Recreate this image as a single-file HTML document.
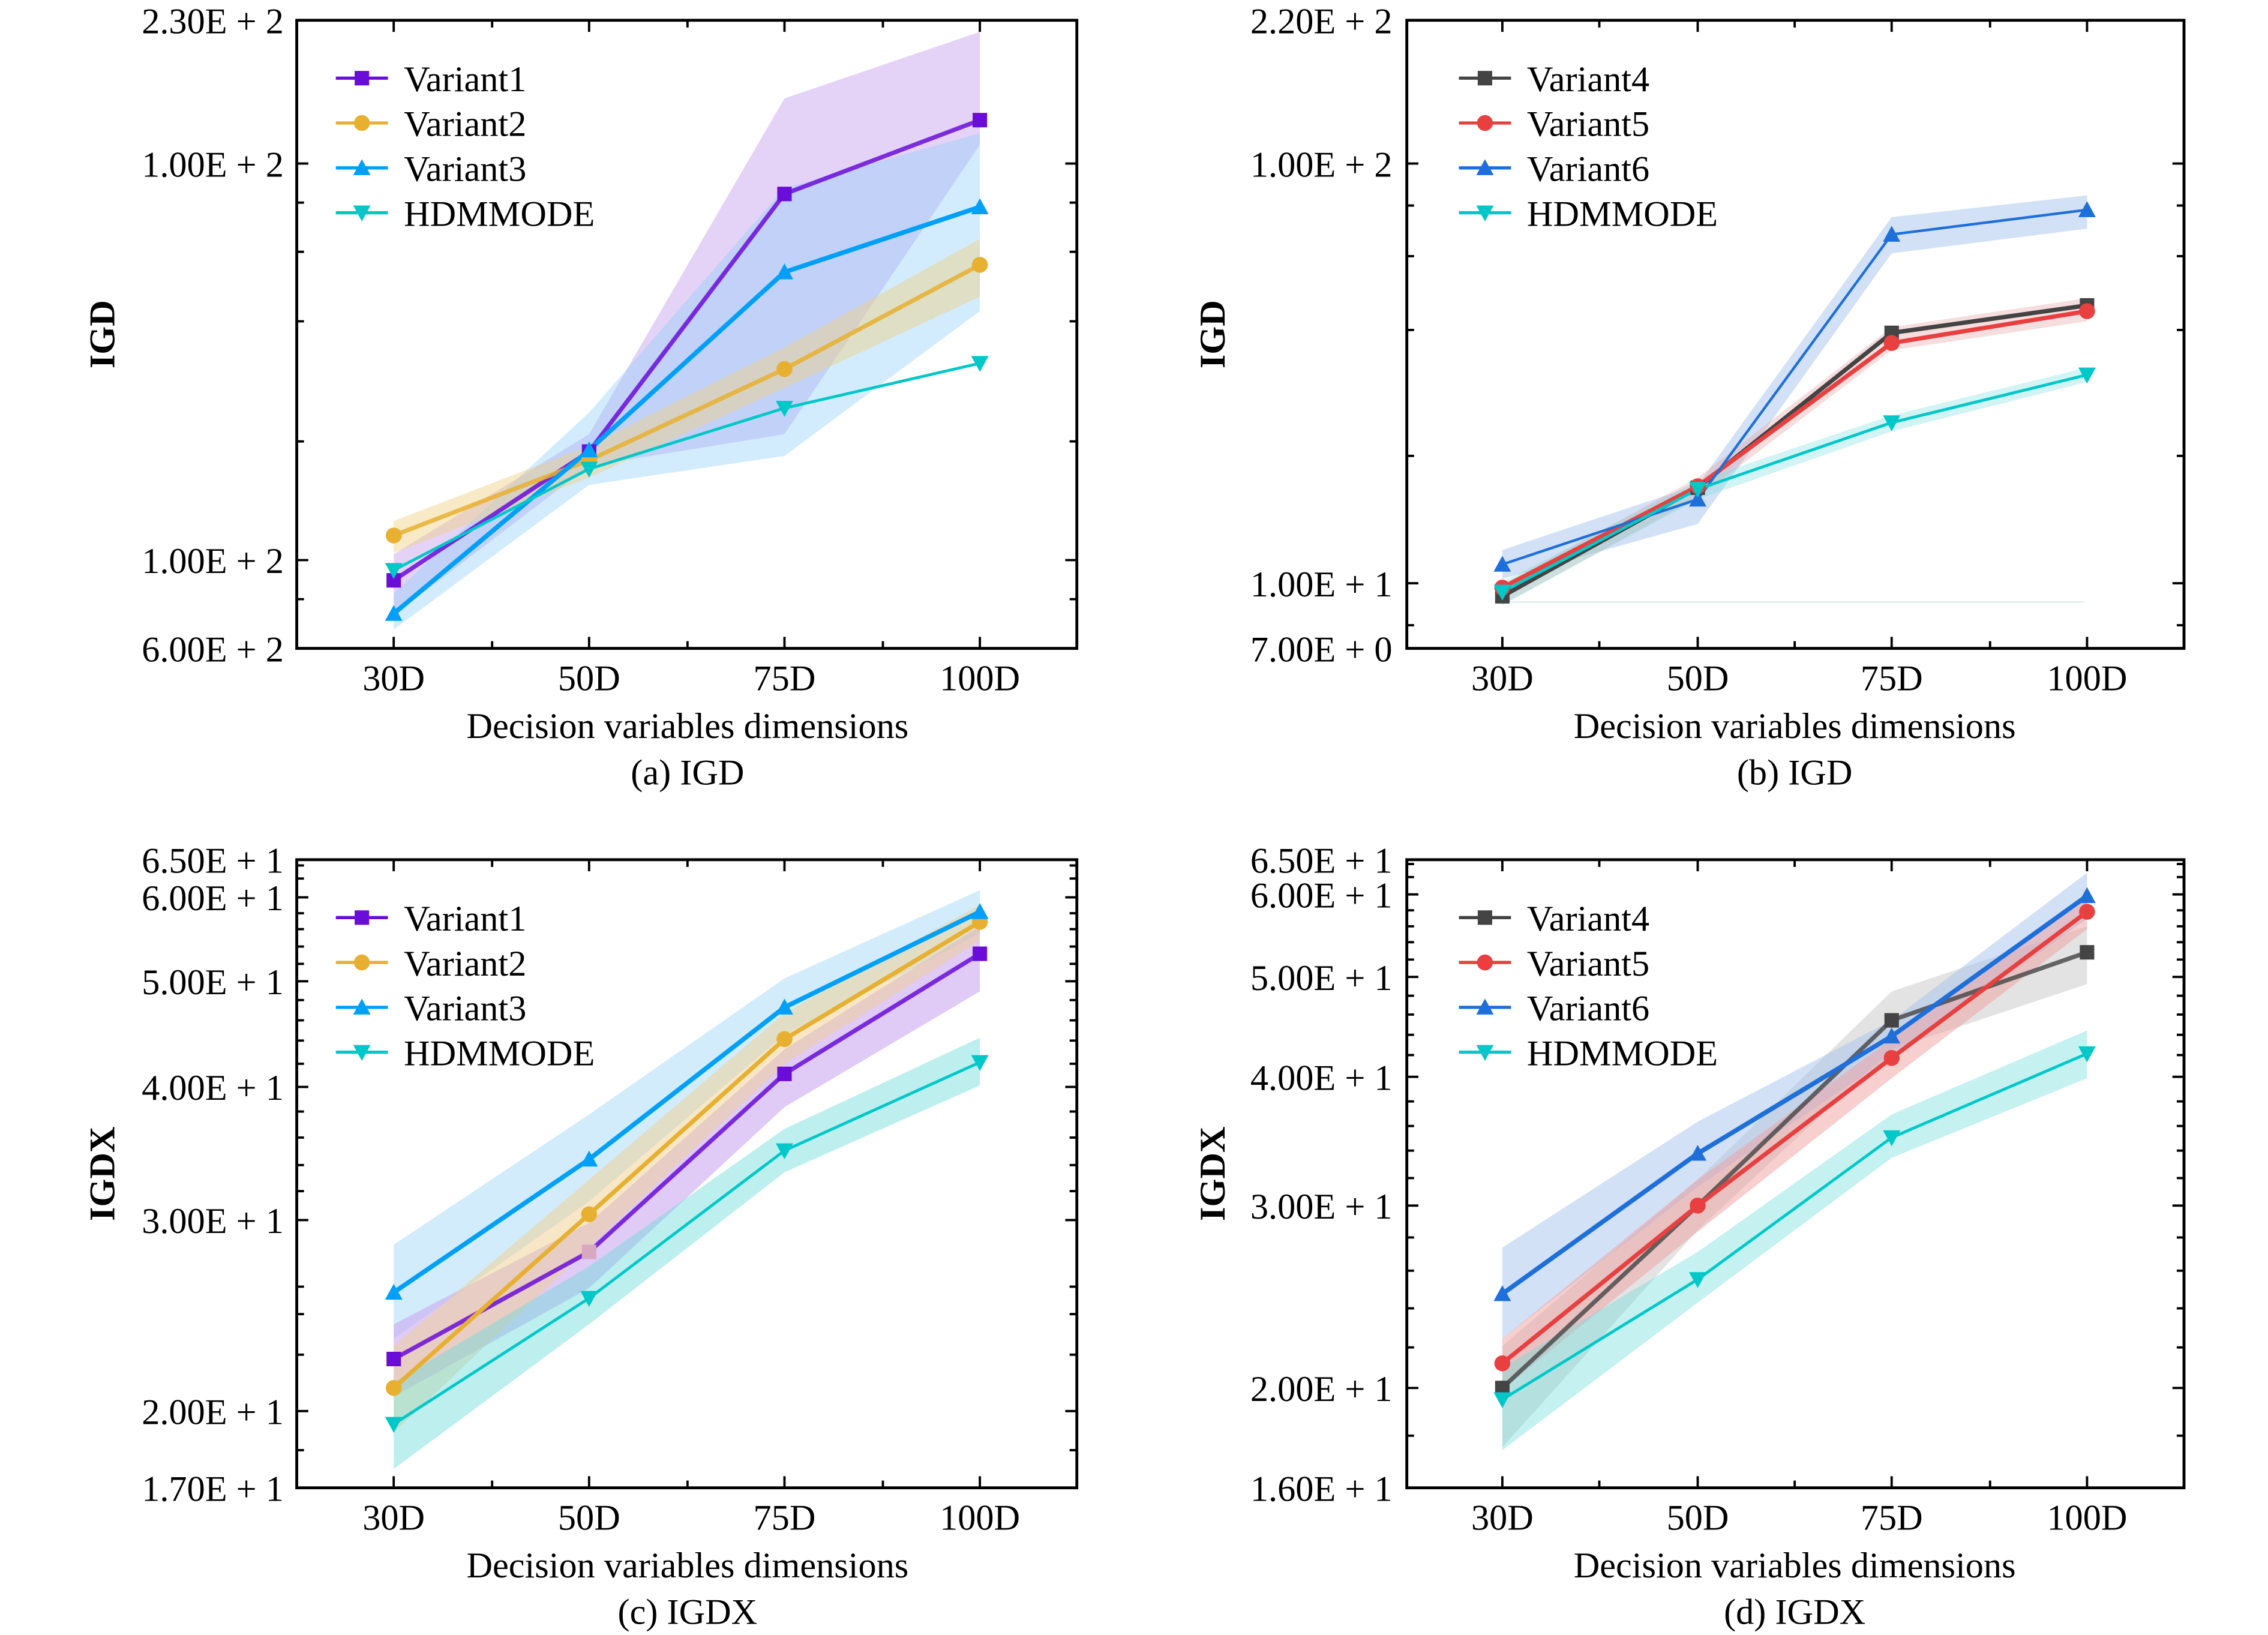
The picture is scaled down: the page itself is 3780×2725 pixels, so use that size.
<!DOCTYPE html>
<html><head><meta charset="utf-8"><style>
html,body{margin:0;padding:0;background:#fff;}
svg{display:block;}
text{font-family:"Liberation Serif",serif;fill:#000;}
</style></head><body>
<svg width="3780" height="2725" viewBox="0 0 1567 1129.7" xmlns="http://www.w3.org/2000/svg">
<rect width="1567" height="1130" fill="#fff"/>

<!-- ================= PANEL A ================= -->
<g>
<polygon points="272,383 407,300 542,68 677,22 677,100 542,300 407,322 272,425" fill="#C9A8F0" fill-opacity="0.5"/>
<polygon points="272,410 407,285 542,130 677,92 677,215 542,315 407,335 272,435" fill="#8FD0FA" fill-opacity="0.4"/>
<polygon points="272,360 407,308 542,240 677,165 677,205 542,268 407,330 272,382" fill="#F0D080" fill-opacity="0.45"/>
<polyline points="272,401 407,312 542,134 677,83" fill="none" stroke="#6A0DD8" stroke-width="3" stroke-opacity="0.85"/>
<polyline points="272,370 407,318 542,255 677,183" fill="none" stroke="#E8B030" stroke-width="3" stroke-opacity="0.85"/>
<polyline points="272,424 407,311 542,188 677,143" fill="none" stroke="#00A0F8" stroke-width="3.2"/>
<polyline points="272,394 407,324 542,282 677,251" fill="none" stroke="#00C8C8" stroke-width="2"/>
<g fill="#6A0DD8"><rect x="267" y="396" width="10" height="10"/><rect x="402" y="307" width="10" height="10"/><rect x="537" y="129" width="10" height="10"/><rect x="672" y="78" width="10" height="10"/></g>
<g fill="#E8B030"><circle cx="272" cy="370" r="5.5"/><circle cx="407" cy="318" r="5.5"/><circle cx="542" cy="255" r="5.5"/><circle cx="677" cy="183" r="5.5"/></g>
<g fill="#00A0F8"><polygon points="272,418 266,429 278,429"/><polygon points="407,305 401,316 413,316"/><polygon points="542,182 536,193 548,193"/><polygon points="677,137 671,148 683,148"/></g>
<g fill="#00C8C8"><polygon points="266,389 278,389 272,400"/><polygon points="401,319 413,319 407,330"/><polygon points="536,277 548,277 542,288"/><polygon points="671,246 683,246 677,257"/></g>
<rect x="205" y="14" width="539" height="434" fill="none" stroke="#000" stroke-width="2"/>
<g stroke="#000" stroke-width="1.6">
<path d="M272,448v-8M407,448v-8M542,448v-8M677,448v-8M340,448v-5M475,448v-5M610,448v-5"/>
<path d="M272,14v8M407,14v8M542,14v8M677,14v8M340,14v5M475,14v5M610,14v5"/>
<path d="M205,113h8M205,387h8M205,140h5M205,174h5M205,222h5M205,305h5M205,414h5"/>
<path d="M744,113h-8M744,387h-8M744,140h-5M744,174h-5M744,222h-5M744,305h-5M744,414h-5"/>
</g>
<g font-size="25" text-anchor="end">
<text x="196" y="23">2.30E + 2</text><text x="196" y="122">1.00E + 2</text><text x="196" y="396">1.00E + 2</text><text x="196" y="457">6.00E + 2</text>
</g>
<g font-size="25" text-anchor="middle">
<text x="272" y="477">30D</text><text x="407" y="477">50D</text><text x="542" y="477">75D</text><text x="677" y="477">100D</text>
<text x="475" y="510">Decision variables dimensions</text>
<text x="475" y="542">(a) IGD</text>
</g>
<text x="0" y="0" font-size="25" font-weight="bold" text-anchor="middle" transform="translate(79,231) rotate(-90)">IGD</text>
<g stroke-width="2.2"><line x1="232" y1="54" x2="268" y2="54" stroke="#6A0DD8"/><line x1="232" y1="85" x2="268" y2="85" stroke="#E8B030"/><line x1="232" y1="116" x2="268" y2="116" stroke="#00A0F8"/><line x1="232" y1="147" x2="268" y2="147" stroke="#00C8C8"/></g>
<rect x="245" y="49" width="10" height="10" fill="#6A0DD8"/><circle cx="250" cy="85" r="5.5" fill="#E8B030"/><polygon points="250,110 244,121 256,121" fill="#00A0F8"/><polygon points="244,142 256,142 250,153" fill="#00C8C8"/>
<g font-size="25"><text x="279" y="63">Variant1</text><text x="279" y="94">Variant2</text><text x="279" y="125">Variant3</text><text x="279" y="156">HDMMODE</text></g>
</g>

<!-- ================= PANEL B ================= -->
<g>
<polygon points="1038,380 1173,335 1307,150 1442,135 1442,158 1307,175 1173,362 1038,400" fill="#A8C4EE" fill-opacity="0.5"/>
<polygon points="1038,404 1173,330 1307,226 1442,206 1442,222 1307,242 1173,344 1038,418" fill="#E8A0A0" fill-opacity="0.35"/>
<polygon points="1038,402 1173,332 1307,287 1442,254 1442,264 1307,298 1173,345 1038,418" fill="#7EE0E0" fill-opacity="0.35"/>
<line x1="1040" y1="416" x2="1440" y2="416" stroke="#D8EEF0" stroke-width="1"/>
<polyline points="1038,412 1173,337 1307,230 1442,211" fill="none" stroke="#444" stroke-width="3"/>
<polyline points="1038,406 1173,336 1307,237 1442,215" fill="none" stroke="#E84040" stroke-width="3"/>
<polyline points="1038,390 1173,345 1307,162 1442,145" fill="none" stroke="#1E6FD9" stroke-width="1.8"/>
<polyline points="1038,409 1173,338 1307,292 1442,259" fill="none" stroke="#00C8C8" stroke-width="2"/>
<g fill="#444"><rect x="1033" y="407" width="10" height="10"/><rect x="1168" y="332" width="10" height="10"/><rect x="1302" y="225" width="10" height="10"/><rect x="1437" y="206" width="10" height="10"/></g>
<g fill="#E84040"><circle cx="1038" cy="406" r="5.5"/><circle cx="1173" cy="336" r="5.5"/><circle cx="1307" cy="237" r="5.5"/><circle cx="1442" cy="215" r="5.5"/></g>
<g fill="#1E6FD9"><polygon points="1038,384 1032,395 1044,395"/><polygon points="1173,339 1167,350 1179,350"/><polygon points="1307,156 1301,167 1313,167"/><polygon points="1442,139 1436,150 1448,150"/></g>
<g fill="#00C8C8"><polygon points="1032,404 1044,404 1038,415"/><polygon points="1167,333 1179,333 1173,344"/><polygon points="1301,287 1313,287 1307,298"/><polygon points="1436,254 1448,254 1442,265"/></g>
<rect x="972" y="14" width="537" height="434" fill="none" stroke="#000" stroke-width="2"/>
<g stroke="#000" stroke-width="1.6">
<path d="M1038,448v-8M1173,448v-8M1307,448v-8M1442,448v-8M1105,448v-5M1240,448v-5M1375,448v-5"/>
<path d="M1038,14v8M1173,14v8M1307,14v8M1442,14v8M1105,14v5M1240,14v5M1375,14v5"/>
<path d="M972,113h8M972,403h8M972,142h5M972,177h5M972,228h5M972,315h5M972,432h5"/>
<path d="M1509,113h-8M1509,403h-8M1509,142h-5M1509,177h-5M1509,228h-5M1509,315h-5M1509,432h-5"/>
</g>
<g font-size="25" text-anchor="end">
<text x="962" y="23">2.20E + 2</text><text x="962" y="122">1.00E + 2</text><text x="962" y="412">1.00E + 1</text><text x="962" y="457">7.00E + 0</text>
</g>
<g font-size="25" text-anchor="middle">
<text x="1038" y="477">30D</text><text x="1173" y="477">50D</text><text x="1307" y="477">75D</text><text x="1442" y="477">100D</text>
<text x="1240" y="510">Decision variables dimensions</text>
<text x="1240" y="542">(b) IGD</text>
</g>
<text x="0" y="0" font-size="25" font-weight="bold" text-anchor="middle" transform="translate(846,231) rotate(-90)">IGD</text>
<g stroke-width="2.2"><line x1="1008" y1="54" x2="1044" y2="54" stroke="#444"/><line x1="1008" y1="85" x2="1044" y2="85" stroke="#E84040"/><line x1="1008" y1="116" x2="1044" y2="116" stroke="#1E6FD9"/><line x1="1008" y1="147" x2="1044" y2="147" stroke="#00C8C8"/></g>
<rect x="1021" y="49" width="10" height="10" fill="#444"/><circle cx="1026" cy="85" r="5.5" fill="#E84040"/><polygon points="1026,110 1020,121 1032,121" fill="#1E6FD9"/><polygon points="1020,142 1032,142 1026,153" fill="#00C8C8"/>
<g font-size="25"><text x="1055" y="63">Variant4</text><text x="1055" y="94">Variant5</text><text x="1055" y="125">Variant6</text><text x="1055" y="156">HDMMODE</text></g>
</g>

<!-- ================= PANEL C ================= -->
<g>
<polygon points="272,860 407,770 542,676 677,615 677,645 542,715 407,830 272,925" fill="#A8DAF8" fill-opacity="0.5"/>
<polygon points="272,915 407,845 542,725 677,640 677,685 542,765 407,890 272,965" fill="#C9A8F0" fill-opacity="0.6"/>
<polygon points="272,930 407,815 542,700 677,625 677,650 542,735 407,862 272,990" fill="#F0D090" fill-opacity="0.5"/>
<polygon points="272,955 407,875 542,780 677,717 677,750 542,810 407,915 272,1015" fill="#6EDCDC" fill-opacity="0.45"/>
<polyline points="272,939 407,865 542,742 677,659" fill="none" stroke="#6A0DD8" stroke-width="3" stroke-opacity="0.85"/>
<polyline points="272,959 407,839 542,718 677,637" fill="none" stroke="#E8B030" stroke-width="3"/>
<polyline points="272,893 407,801 542,696 677,630" fill="none" stroke="#00A0F8" stroke-width="3.2"/>
<polyline points="272,984 407,897 542,795 677,734" fill="none" stroke="#00C8C8" stroke-width="2"/>
<g fill="#6A0DD8"><rect x="267" y="934" width="10" height="10"/><rect x="402" y="860" width="10" height="10" fill="#D8A8C0"/><rect x="537" y="737" width="10" height="10"/><rect x="672" y="654" width="10" height="10"/></g>
<g fill="#E8B030"><circle cx="272" cy="959" r="5.5"/><circle cx="407" cy="839" r="5.5"/><circle cx="542" cy="718" r="5.5"/><circle cx="677" cy="637" r="5.5"/></g>
<g fill="#00A0F8"><polygon points="272,887 266,898 278,898"/><polygon points="407,795 401,806 413,806"/><polygon points="542,690 536,701 548,701"/><polygon points="677,624 671,635 683,635"/></g>
<g fill="#00C8C8"><polygon points="266,979 278,979 272,990"/><polygon points="401,892 413,892 407,903"/><polygon points="536,790 548,790 542,801"/><polygon points="671,729 683,729 677,740"/></g>
<rect x="205" y="594" width="539" height="434" fill="none" stroke="#000" stroke-width="2"/>
<g stroke="#000" stroke-width="1.6">
<path d="M272,1028v-8M407,1028v-8M542,1028v-8M677,1028v-8M340,1028v-5M475,1028v-5M610,1028v-5"/>
<path d="M272,594v8M407,594v8M542,594v8M677,594v8M340,594v5M475,594v5M610,594v5"/>
<path d="M205,620h8M205,678h8M205,751h8M205,843h8M205,975h8M205,598h5M205,607h5M205,631h5M205,642h5M205,654h5M205,666h5M205,691h5M205,705h5M205,719h5M205,735h5M205,768h5M205,786h5M205,805h5M205,823h5M205,889h5M205,908h5M205,936h5M205,1002h5"/>
<path d="M744,620h-8M744,678h-8M744,751h-8M744,843h-8M744,975h-8M744,598h-5M744,607h-5M744,631h-5M744,642h-5M744,654h-5M744,666h-5M744,691h-5M744,705h-5M744,719h-5M744,735h-5M744,768h-5M744,786h-5M744,805h-5M744,823h-5M744,889h-5M744,908h-5M744,936h-5M744,1002h-5"/>
</g>
<g font-size="25" text-anchor="end">
<text x="196" y="603">6.50E + 1</text><text x="196" y="629">6.00E + 1</text><text x="196" y="687">5.00E + 1</text><text x="196" y="760">4.00E + 1</text><text x="196" y="852">3.00E + 1</text><text x="196" y="984">2.00E + 1</text><text x="196" y="1037">1.70E + 1</text>
</g>
<g font-size="25" text-anchor="middle">
<text x="272" y="1057">30D</text><text x="407" y="1057">50D</text><text x="542" y="1057">75D</text><text x="677" y="1057">100D</text>
<text x="475" y="1090">Decision variables dimensions</text>
<text x="475" y="1122">(c) IGDX</text>
</g>
<text x="0" y="0" font-size="25" font-weight="bold" text-anchor="middle" transform="translate(79,811) rotate(-90)">IGDX</text>
<g stroke-width="2.2"><line x1="232" y1="634" x2="268" y2="634" stroke="#6A0DD8"/><line x1="232" y1="665" x2="268" y2="665" stroke="#E8B030"/><line x1="232" y1="696" x2="268" y2="696" stroke="#00A0F8"/><line x1="232" y1="727" x2="268" y2="727" stroke="#00C8C8"/></g>
<rect x="245" y="629" width="10" height="10" fill="#6A0DD8"/><circle cx="250" cy="665" r="5.5" fill="#E8B030"/><polygon points="250,690 244,701 256,701" fill="#00A0F8"/><polygon points="244,722 256,722 250,733" fill="#00C8C8"/>
<g font-size="25"><text x="279" y="643">Variant1</text><text x="279" y="674">Variant2</text><text x="279" y="705">Variant3</text><text x="279" y="736">HDMMODE</text></g>
</g>

<!-- ================= PANEL D ================= -->
<g>
<polygon points="1038,930 1173,815 1307,685 1442,640 1442,680 1307,725 1173,850 1038,1000" fill="#C8C8C8" fill-opacity="0.5"/>
<polygon points="1038,862 1173,775 1307,705 1442,603 1442,635 1307,730 1173,820 1038,925" fill="#A8C4EE" fill-opacity="0.5"/>
<polygon points="1038,925 1173,815 1307,718 1442,618 1442,642 1307,745 1173,851 1038,960" fill="#F0A0A0" fill-opacity="0.5"/>
<polygon points="1038,945 1173,865 1307,770 1442,712 1442,745 1307,800 1173,900 1038,1002" fill="#6EDCDC" fill-opacity="0.4"/>
<polyline points="1038,959 1173,833 1307,705 1442,658" fill="none" stroke="#444" stroke-width="3" stroke-opacity="0.8"/>
<polyline points="1038,894 1173,797 1307,716 1442,619" fill="none" stroke="#1E6FD9" stroke-width="3.2"/>
<polyline points="1038,942 1173,833 1307,731 1442,630" fill="none" stroke="#E84040" stroke-width="3"/>
<polyline points="1038,967 1173,884 1307,786 1442,728" fill="none" stroke="#00C8C8" stroke-width="2"/>
<g fill="#444"><rect x="1033" y="954" width="10" height="10"/><rect x="1302" y="700" width="10" height="10"/><rect x="1437" y="653" width="10" height="10"/></g>
<g fill="#E84040"><circle cx="1038" cy="942" r="5.5"/><circle cx="1173" cy="833" r="5.5"/><circle cx="1307" cy="731" r="5.5"/><circle cx="1442" cy="630" r="5.5"/></g>
<g fill="#1E6FD9"><polygon points="1038,888 1032,899 1044,899"/><polygon points="1173,791 1167,802 1179,802"/><polygon points="1307,710 1301,721 1313,721"/><polygon points="1442,613 1436,624 1448,624"/></g>
<g fill="#00C8C8"><polygon points="1032,962 1044,962 1038,973"/><polygon points="1167,879 1179,879 1173,890"/><polygon points="1301,781 1313,781 1307,792"/><polygon points="1436,723 1448,723 1442,734"/></g>
<rect x="972" y="594" width="537" height="434" fill="none" stroke="#000" stroke-width="2"/>
<g stroke="#000" stroke-width="1.6">
<path d="M1038,1028v-8M1173,1028v-8M1307,1028v-8M1442,1028v-8M1105,1028v-5M1240,1028v-5M1375,1028v-5"/>
<path d="M1038,594v8M1173,594v8M1307,594v8M1442,594v8M1105,594v5M1240,594v5M1375,594v5"/>
<path d="M972,618h8M972,675h8M972,744h8M972,833h8M972,959h8M972,597h5M972,606h5M972,629h5M972,640h5M972,651h5M972,663h5M972,688h5M972,701h5M972,715h5M972,729h5M972,761h5M972,778h5M972,795h5M972,814h5M972,855h5M972,878h5M972,904h5M972,931h5M972,992h5"/>
<path d="M1509,618h-8M1509,675h-8M1509,744h-8M1509,833h-8M1509,959h-8M1509,597h-5M1509,606h-5M1509,629h-5M1509,640h-5M1509,651h-5M1509,663h-5M1509,688h-5M1509,701h-5M1509,715h-5M1509,729h-5M1509,761h-5M1509,778h-5M1509,795h-5M1509,814h-5M1509,855h-5M1509,878h-5M1509,904h-5M1509,931h-5M1509,992h-5"/>
</g>
<g font-size="25" text-anchor="end">
<text x="962" y="603">6.50E + 1</text><text x="962" y="627">6.00E + 1</text><text x="962" y="684">5.00E + 1</text><text x="962" y="753">4.00E + 1</text><text x="962" y="842">3.00E + 1</text><text x="962" y="968">2.00E + 1</text><text x="962" y="1037">1.60E + 1</text>
</g>
<g font-size="25" text-anchor="middle">
<text x="1038" y="1057">30D</text><text x="1173" y="1057">50D</text><text x="1307" y="1057">75D</text><text x="1442" y="1057">100D</text>
<text x="1240" y="1090">Decision variables dimensions</text>
<text x="1240" y="1122">(d) IGDX</text>
</g>
<text x="0" y="0" font-size="25" font-weight="bold" text-anchor="middle" transform="translate(846,811) rotate(-90)">IGDX</text>
<g stroke-width="2.2"><line x1="1008" y1="634" x2="1044" y2="634" stroke="#444"/><line x1="1008" y1="665" x2="1044" y2="665" stroke="#E84040"/><line x1="1008" y1="696" x2="1044" y2="696" stroke="#1E6FD9"/><line x1="1008" y1="727" x2="1044" y2="727" stroke="#00C8C8"/></g>
<rect x="1021" y="629" width="10" height="10" fill="#444"/><circle cx="1026" cy="665" r="5.5" fill="#E84040"/><polygon points="1026,690 1020,701 1032,701" fill="#1E6FD9"/><polygon points="1020,722 1032,722 1026,733" fill="#00C8C8"/>
<g font-size="25"><text x="1055" y="643">Variant4</text><text x="1055" y="674">Variant5</text><text x="1055" y="705">Variant6</text><text x="1055" y="736">HDMMODE</text></g>
</g>
</svg>
</body></html>
